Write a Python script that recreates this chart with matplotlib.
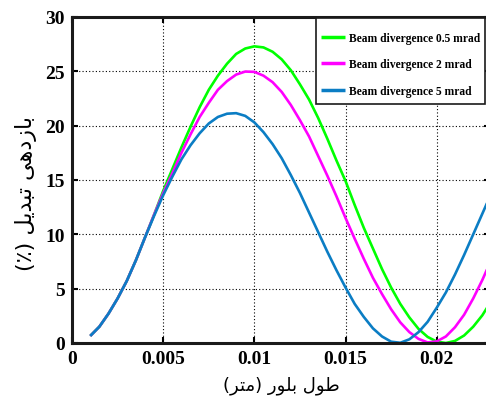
import numpy as np
import matplotlib
matplotlib.use("Agg")
import matplotlib.pyplot as plt
from matplotlib.patches import Rectangle

# crystal length (m) and conversion efficiency (%) for each beam divergence
length = np.round(np.arange(0.001, 0.02301, 0.0005), 4)

eff_05mrad = [0.65, 1.5, 2.7, 4.1, 5.7, 7.6, 9.7, 11.8, 14.0, 16.0,
              18.0, 19.9, 21.7, 23.3, 24.6, 25.7, 26.6, 27.1, 27.3, 27.2,
              26.8, 26.1, 25.1, 23.8, 22.4, 20.7, 18.8, 16.8, 14.9, 12.7,
              10.6, 8.7, 6.8, 5.1, 3.6, 2.35, 1.3, 0.56, 0.13, 0.0,
              0.19, 0.69, 1.5, 2.55, 3.9]
eff_2mrad = [0.65, 1.5, 2.7, 4.1, 5.7, 7.6, 9.7, 11.8, 13.8, 15.6,
             17.5, 19.2, 20.8, 22.1, 23.3, 24.1, 24.7, 24.98, 24.95, 24.6,
             24.0, 23.1, 21.9, 20.5, 19.0, 17.2, 15.4, 13.5, 11.5, 9.6,
             7.75, 6.0, 4.5, 3.1, 1.9, 1.0, 0.38, 0.05, 0.15, 0.6,
             1.45, 2.6, 4.1, 5.8, 7.7]
eff_5mrad = [0.65, 1.5, 2.7, 4.1, 5.7, 7.6, 9.7, 11.7, 13.6, 15.3,
             16.9, 18.2, 19.3, 20.2, 20.8, 21.1, 21.15, 20.9, 20.3, 19.4,
             18.3, 17.0, 15.45, 13.8, 12.0, 10.2, 8.4, 6.7, 5.1, 3.6,
             2.4, 1.35, 0.6, 0.12, 0.02, 0.34, 1.0, 1.95, 3.25, 4.65,
             6.3, 8.1, 10.0, 11.9, 13.8]

labels = ["Beam divergence 0.5 mrad", "Beam divergence 2 mrad",
          "Beam divergence 5 mrad"]
colors = ["#00ff00", "#ff00ff", "#0b7dc4"]

xticks = [0, 0.005, 0.01, 0.015, 0.02]
xticklabels = ["0", "0.005", "0.01", "0.015", "0.02"]
yticks = [0, 5, 10, 15, 20, 25, 30]


def farsi(*codes):
    # glyphs are given as presentation forms, already in visual order
    return "".join(chr(c) for c in codes)


# طول بلور (متر)
xlabel = ("(" + farsi(0xFEAE, 0xFE98, 0xFEE3) + ") "
          + farsi(0xFEAD, 0xFEEE, 0xFEE0, 0xFE91) + " "
          + farsi(0xFEDD, 0xFEEE, 0xFEC3))
# بازدهی تبدیل (٪)
ylabel = ("(\u066a) "
          + farsi(0xFEDE, 0xFEF3, 0xFEAA, 0xFE92, 0xFE97) + " "
          + farsi(0xFEF0, 0xFEEB, 0xFEA9, 0xFEAF, 0xFE8E, 0xFE91))

fig = plt.figure(figsize=(4.86, 4.02), dpi=100)
ax = fig.add_axes([72/486, 58/402, 418/486, 326/402])

for y, lab, c in zip([eff_05mrad, eff_2mrad, eff_5mrad], labels, colors):
    ax.plot(length, y, color=c, lw=1.9, label=lab, solid_capstyle="butt")

ax.set_xlim(0, 0.02292)
ax.set_ylim(0, 30)
ax.set_xticks(xticks)
ax.set_xticklabels(xticklabels)
ax.set_yticks(yticks)
ax.grid(True, color="black", linestyle=(0, (1, 2)), linewidth=0.8)
ax.tick_params(direction="in", length=4, width=1.5, top=True, right=True,
               labelsize=14, pad=5)
for lab in ax.get_xticklabels() + ax.get_yticklabels():
    lab.set_fontfamily("Liberation Serif")
    lab.set_fontweight("bold")
for s in ax.spines.values():
    s.set_linewidth(2.2)
    s.set_color("#1a1a1a")

ax.set_xlabel(xlabel, fontsize=13, family=["DejaVu Sans"], labelpad=6)
ax.set_ylabel(ylabel, fontsize=16, family=["DejaVu Sans"])
ax.yaxis.set_label_coords(-0.083, 0.46)

# legend entries without their own frame; the box is drawn separately
leg = ax.legend(loc="upper left", bbox_to_anchor=(321/486, 1 - 33/402),
                bbox_transform=fig.transFigure, borderaxespad=0, borderpad=0,
                prop={"family": "Liberation Serif", "weight": "bold", "size": 8.3},
                frameon=False, handlelength=2.1, handletextpad=0.35,
                labelspacing=1.25)
for h in leg.get_lines():
    h.set_linewidth(2.5)
leg.set_zorder(6)
ax.add_patch(Rectangle((316/486, 1 - 105/402), 169/486, 86/402,
                       transform=fig.transFigure, facecolor="white",
                       edgecolor="#1a1a1a", linewidth=1.2, zorder=5,
                       clip_on=False))

fig.savefig("out.png", dpi=100)
